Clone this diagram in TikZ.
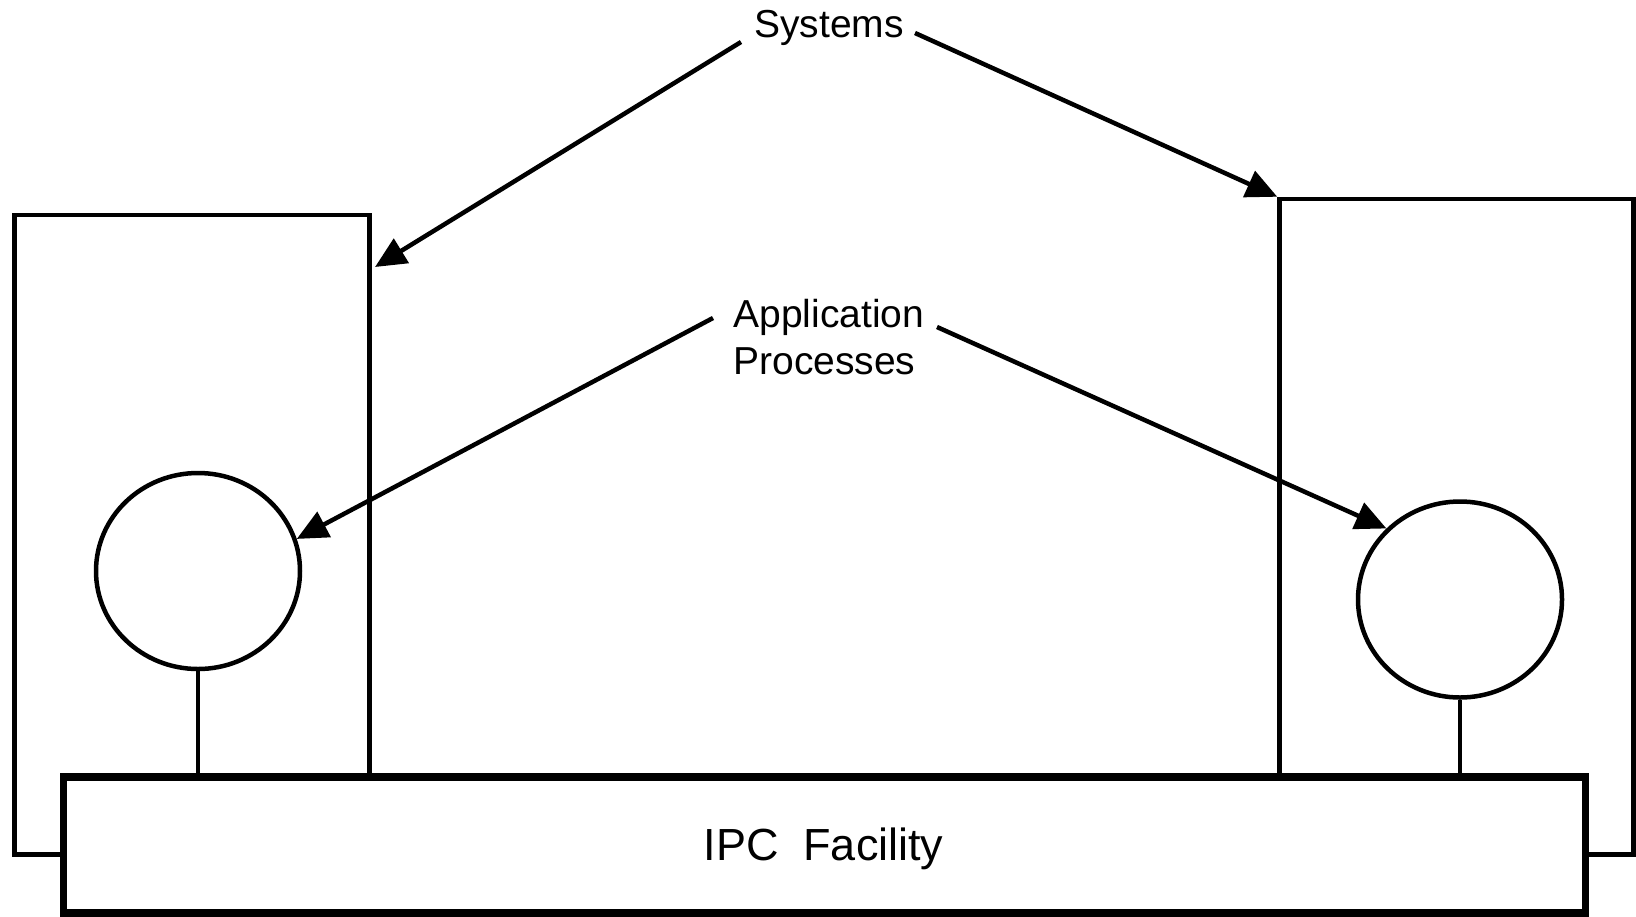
\documentclass[tikz,border=0pt]{standalone}
\usepackage{fontspec}
\setmainfont{Liberation Sans}
\usetikzlibrary{arrows.meta,shapes.geometric}
\begin{document}
\begin{tikzpicture}[x=0.5pt,y=-0.5pt,
  sysbox/.style={draw,line width=2.25pt,rectangle,inner sep=0pt},
  procnode/.style={draw,line width=2.25pt,ellipse,inner sep=0pt,
    minimum width=102pt,minimum height=98pt},
  stem/.style={line width=2.25pt},
  ipcbox/.style={draw,line width=3.75pt,fill=white,rectangle,inner sep=0pt,
    minimum width=761pt,minimum height=68pt},
  pointer/.style={line width=2.25pt,-{Triangle[length=15.5pt,width=14pt]}},
  lbl/.style={inner sep=0pt,font=\fontsize{19.5}{23.5}\selectfont},
  biglbl/.style={inner sep=0pt,font=\fontsize{22.5}{27}\selectfont}]
\useasboundingbox (0,0) rectangle (1636,916);

% the two systems
\node[sysbox,minimum width=177.5pt,minimum height=319.75pt] (L) at (192,534.75) {};
\node[sysbox,minimum width=177pt,minimum height=327.75pt] (R) at (1456.5,526.75) {};

% application processes
\node[procnode] (appL) at (198,571) {};
\node[procnode] (appR) at (1460,599.5) {};

% IPC facility spanning both systems
\draw[stem] (appL.south) -- (appL.south |- 0,777);
\draw[stem] (appR.south) -- (appR.south |- 0,777);
\node[ipcbox] (ipc) at (824.5,845) {};
\node[biglbl,anchor=base] (ipctext) at (823.5,860) {IPC\ \ Facility};

% labels
\node[lbl,anchor=base] (sys) at (829,37) {Systems};
\node[lbl,anchor=base west,align=left] (app) at (733,374) {Application\\Processes};

% pointer start and end points
\coordinate (sysL) at (741,42);
\coordinate (sysR) at (915,33);
\coordinate (sysTipL) at (375,267);
\coordinate (appSL) at (713,318);
\coordinate (appSR) at (937,327);

\draw[pointer] (sysL) -- (sysTipL);
\draw[pointer] (sysR) -- (R.north west);
\draw[pointer] (appSL) -- (appL.18);
\draw[pointer] (appSR) -- (appR.136);
\end{tikzpicture}
\end{document}
